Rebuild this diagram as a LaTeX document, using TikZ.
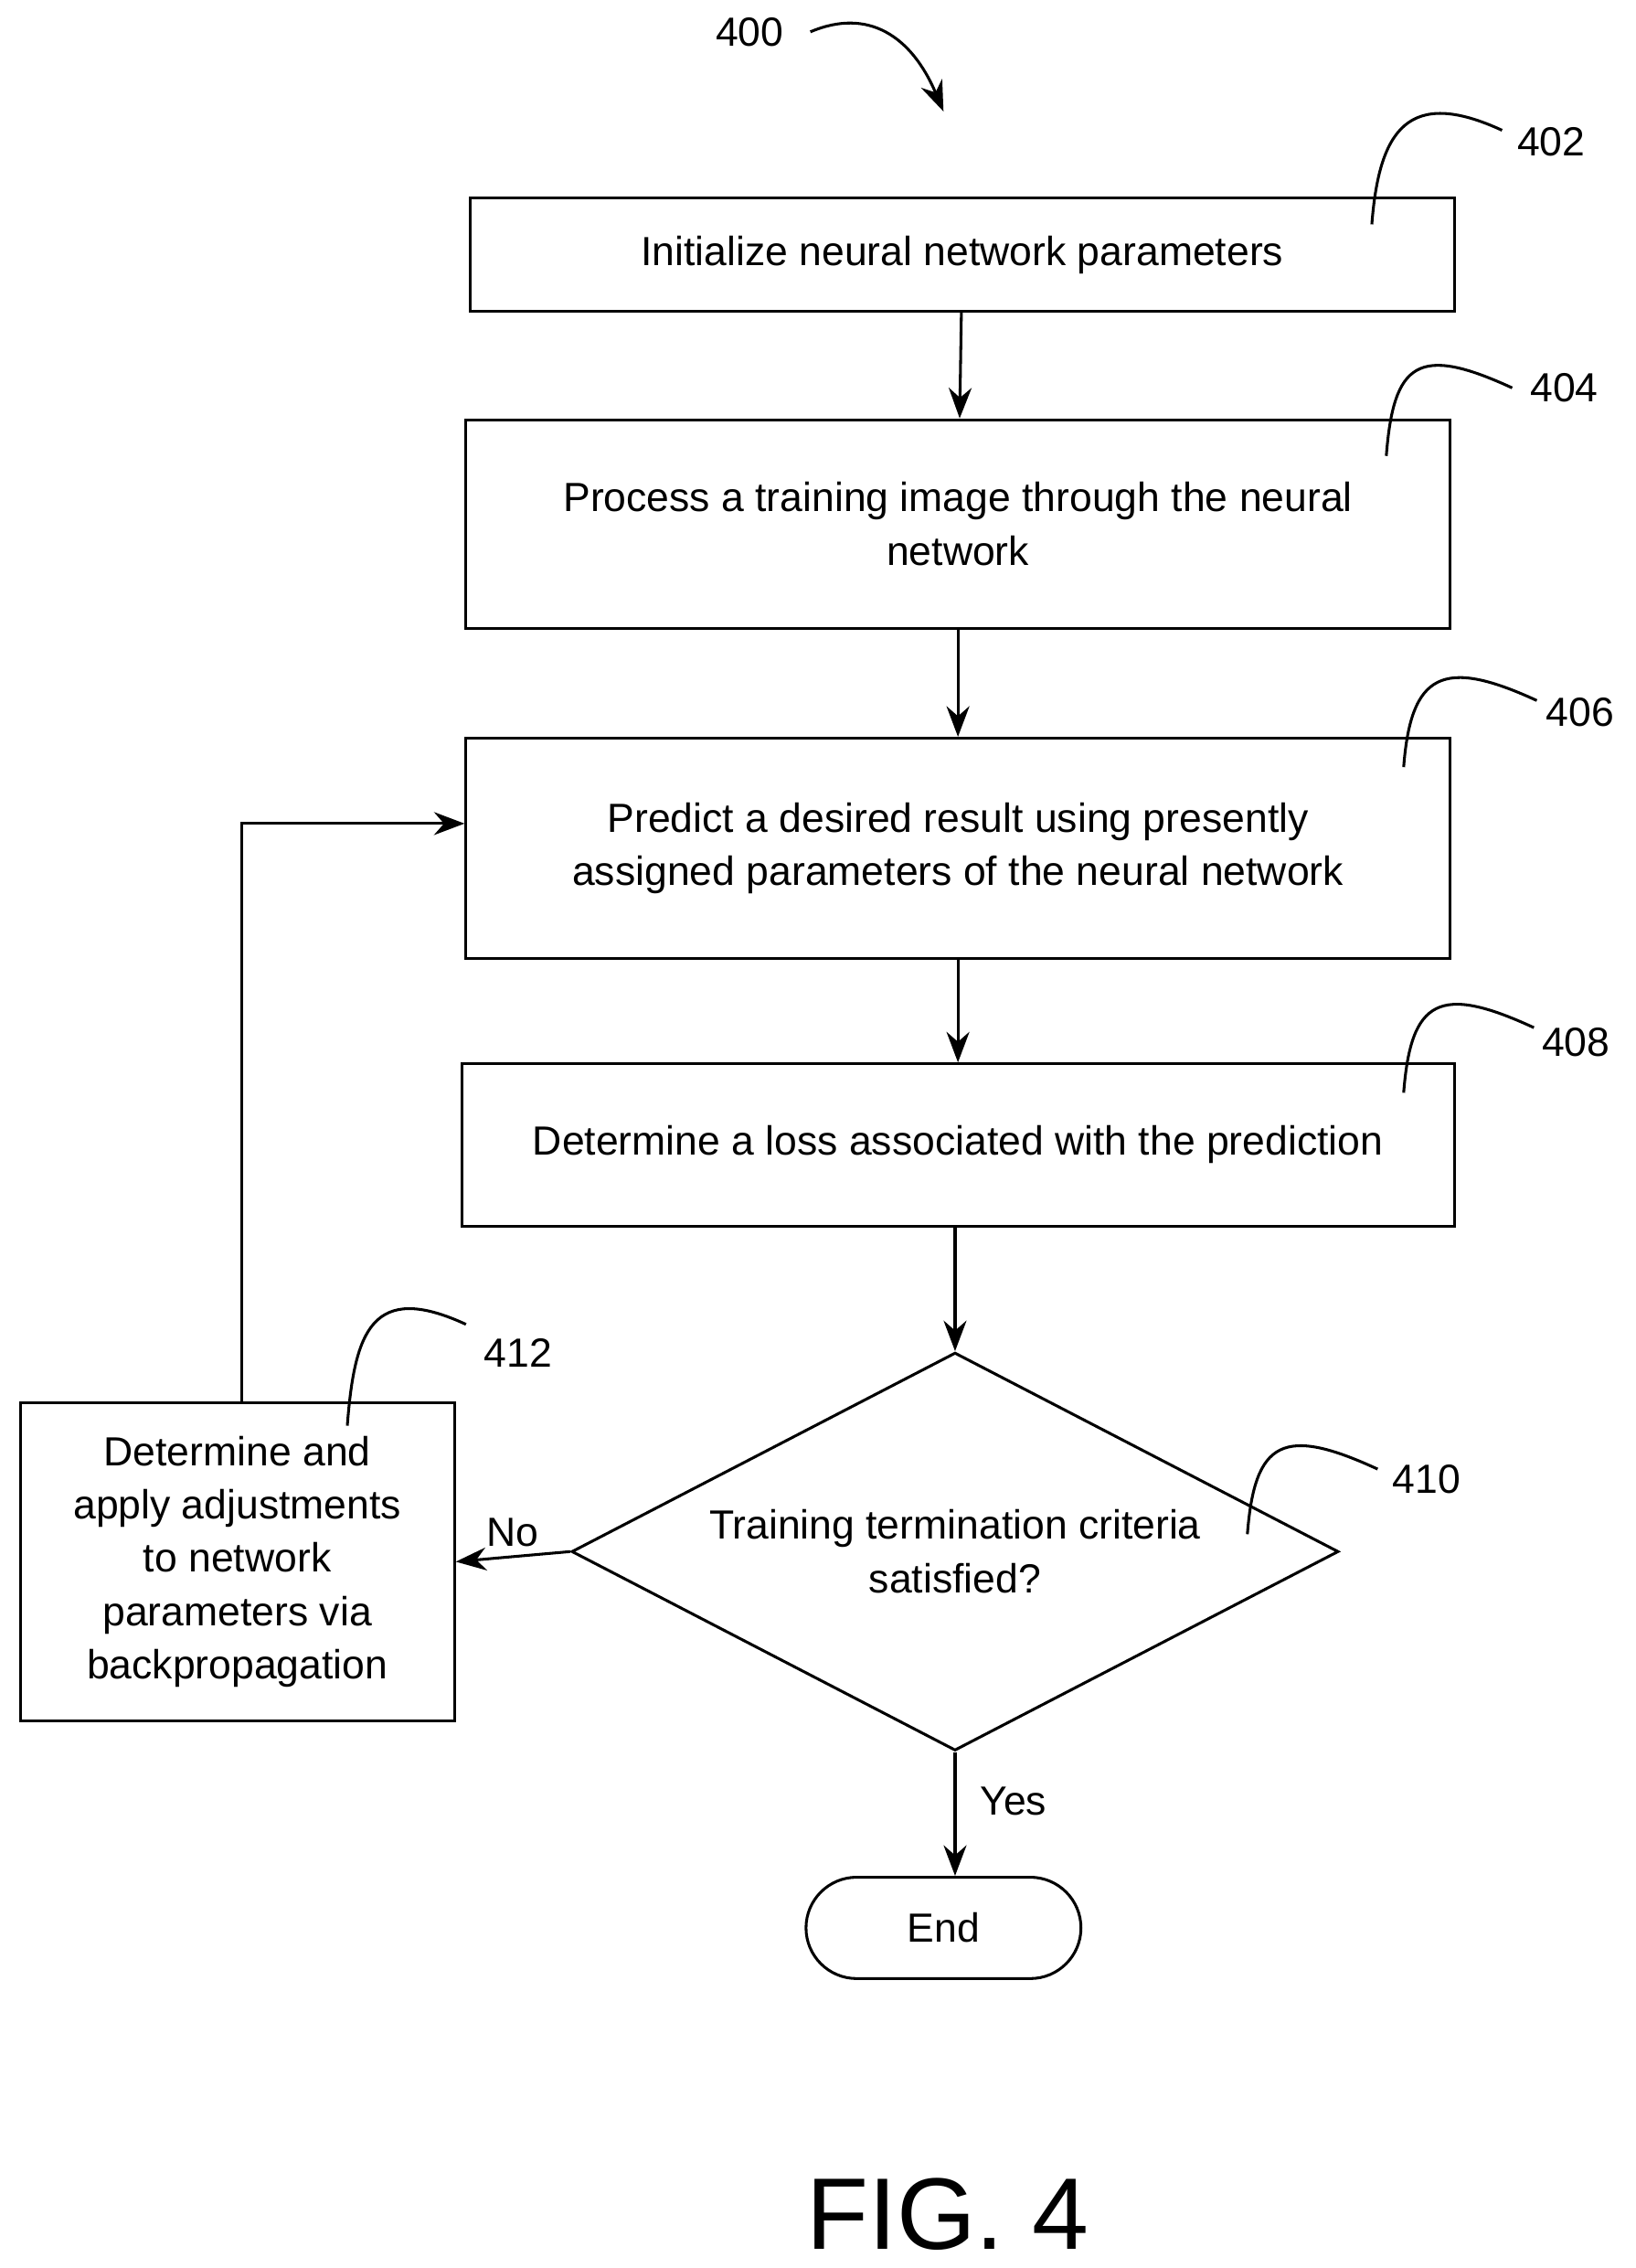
\documentclass[tikz,border=0pt]{standalone}
\usepackage{fontspec}
\setmainfont{Liberation Sans}
\usetikzlibrary{positioning,shapes.geometric,arrows.meta,calc}
\tikzset{
  stepbox/.style={draw, line width=1.1pt, align=center, inner sep=0pt,
    font=\fontsize{16}{21}\selectfont},
  flow/.style={line width=1.1pt, -{Stealth[length=12pt,width=9pt]}},
  lead/.style={line width=1.1pt},
  tag/.style={font=\fontsize{16}{21}\selectfont}
}
% curved reference lead with its numeral
\newcommand{\leadline}[4]{%
  \draw[lead] (#1) .. controls ($(#1)+(0.1,1.3)$) and ($(#2)+(-1.3,0.6)$) .. (#2);
  \node[tag] (n#4) at (#3) {#4};}
\begin{document}
\begin{tikzpicture}
  \useasboundingbox (0,0) rectangle (22.6,-31.34);
  % steps
  \node[stepbox, minimum width=13.6cm, minimum height=1.56cm] (init) at (13.3,-3.52)
    {Initialize neural network parameters};
  \node[stepbox, minimum width=13.6cm, minimum height=2.88cm] (process) at (13.24,-7.24)
    {Process a training image through the neural\\network};
  \node[stepbox, minimum width=13.6cm, minimum height=3.04cm] (predict) at (13.24,-11.72)
    {Predict a desired result using presently\\assigned parameters of the neural network};
  \node[stepbox, minimum width=13.72cm, minimum height=2.24cm] (loss) at (13.24,-15.82)
    {Determine a loss associated with the prediction};
  \node[draw, line width=1.1pt, diamond, aspect=1.93, minimum width=10.6cm,
    minimum height=5.5cm, inner sep=0pt] (check) at (13.2,-21.44) {};
  \node[tag, align=center] (checktext) at (13.2,-21.44)
    {Training termination criteria\\satisfied?};
  \node[stepbox, minimum width=6cm, minimum height=4.4cm] (adjust) at (3.28,-21.58)
    {Determine and\\apply adjustments\\to network\\parameters via\\backpropagation};
  \node[stepbox, minimum width=3.8cm, minimum height=1.4cm, rounded corners=0.7cm] (end)
    at (13.04,-26.64) {End};
  % connectors
  \draw[flow] (init) -- (process);
  \draw[flow] (process) -- (predict);
  \draw[flow] (predict) -- (loss);
  \draw[flow] (loss.south -| check.north) -- (check.north);
  \draw[flow] (check.west) -- (adjust.east) node[tag, pos=0.5, above] {No};
  \draw[flow] (check.south) -- (check.south |- end.north)
    node[tag, pos=0.4, right=6pt] {Yes};
  \coordinate (back) at (3.34,-11.38);
  \draw[flow] (adjust.north -| back) -- (back) -- (back -| predict.west);
  % reference numerals
  \leadline{18.96,-3.1}{20.76,-1.8}{21.44,-1.96}{402}
  \leadline{19.16,-6.3}{20.9,-5.36}{21.62,-5.36}{404}
  \leadline{19.4,-10.6}{21.24,-9.68}{21.84,-9.84}{406}
  \leadline{19.4,-15.1}{21.2,-14.2}{21.78,-14.4}{408}
  \leadline{17.24,-21.2}{19.04,-20.3}{19.72,-20.44}{410}
  \leadline{4.8,-19.7}{6.44,-18.3}{7.16,-18.7}{412}
  \node[tag] (fignum) at (10.36,-0.44) {400};
  \coordinate (fstart) at (11.2,-0.44);
  \coordinate (fend) at (13.04,-1.54);
  \draw[flow] (fstart) .. controls (12,-0.1) and (12.6,-0.5) .. (fend);
  \node[font=\fontsize{40}{44}\selectfont] (caption) at (13.1,-30.6) {FIG. 4};
\end{tikzpicture}
\end{document}
